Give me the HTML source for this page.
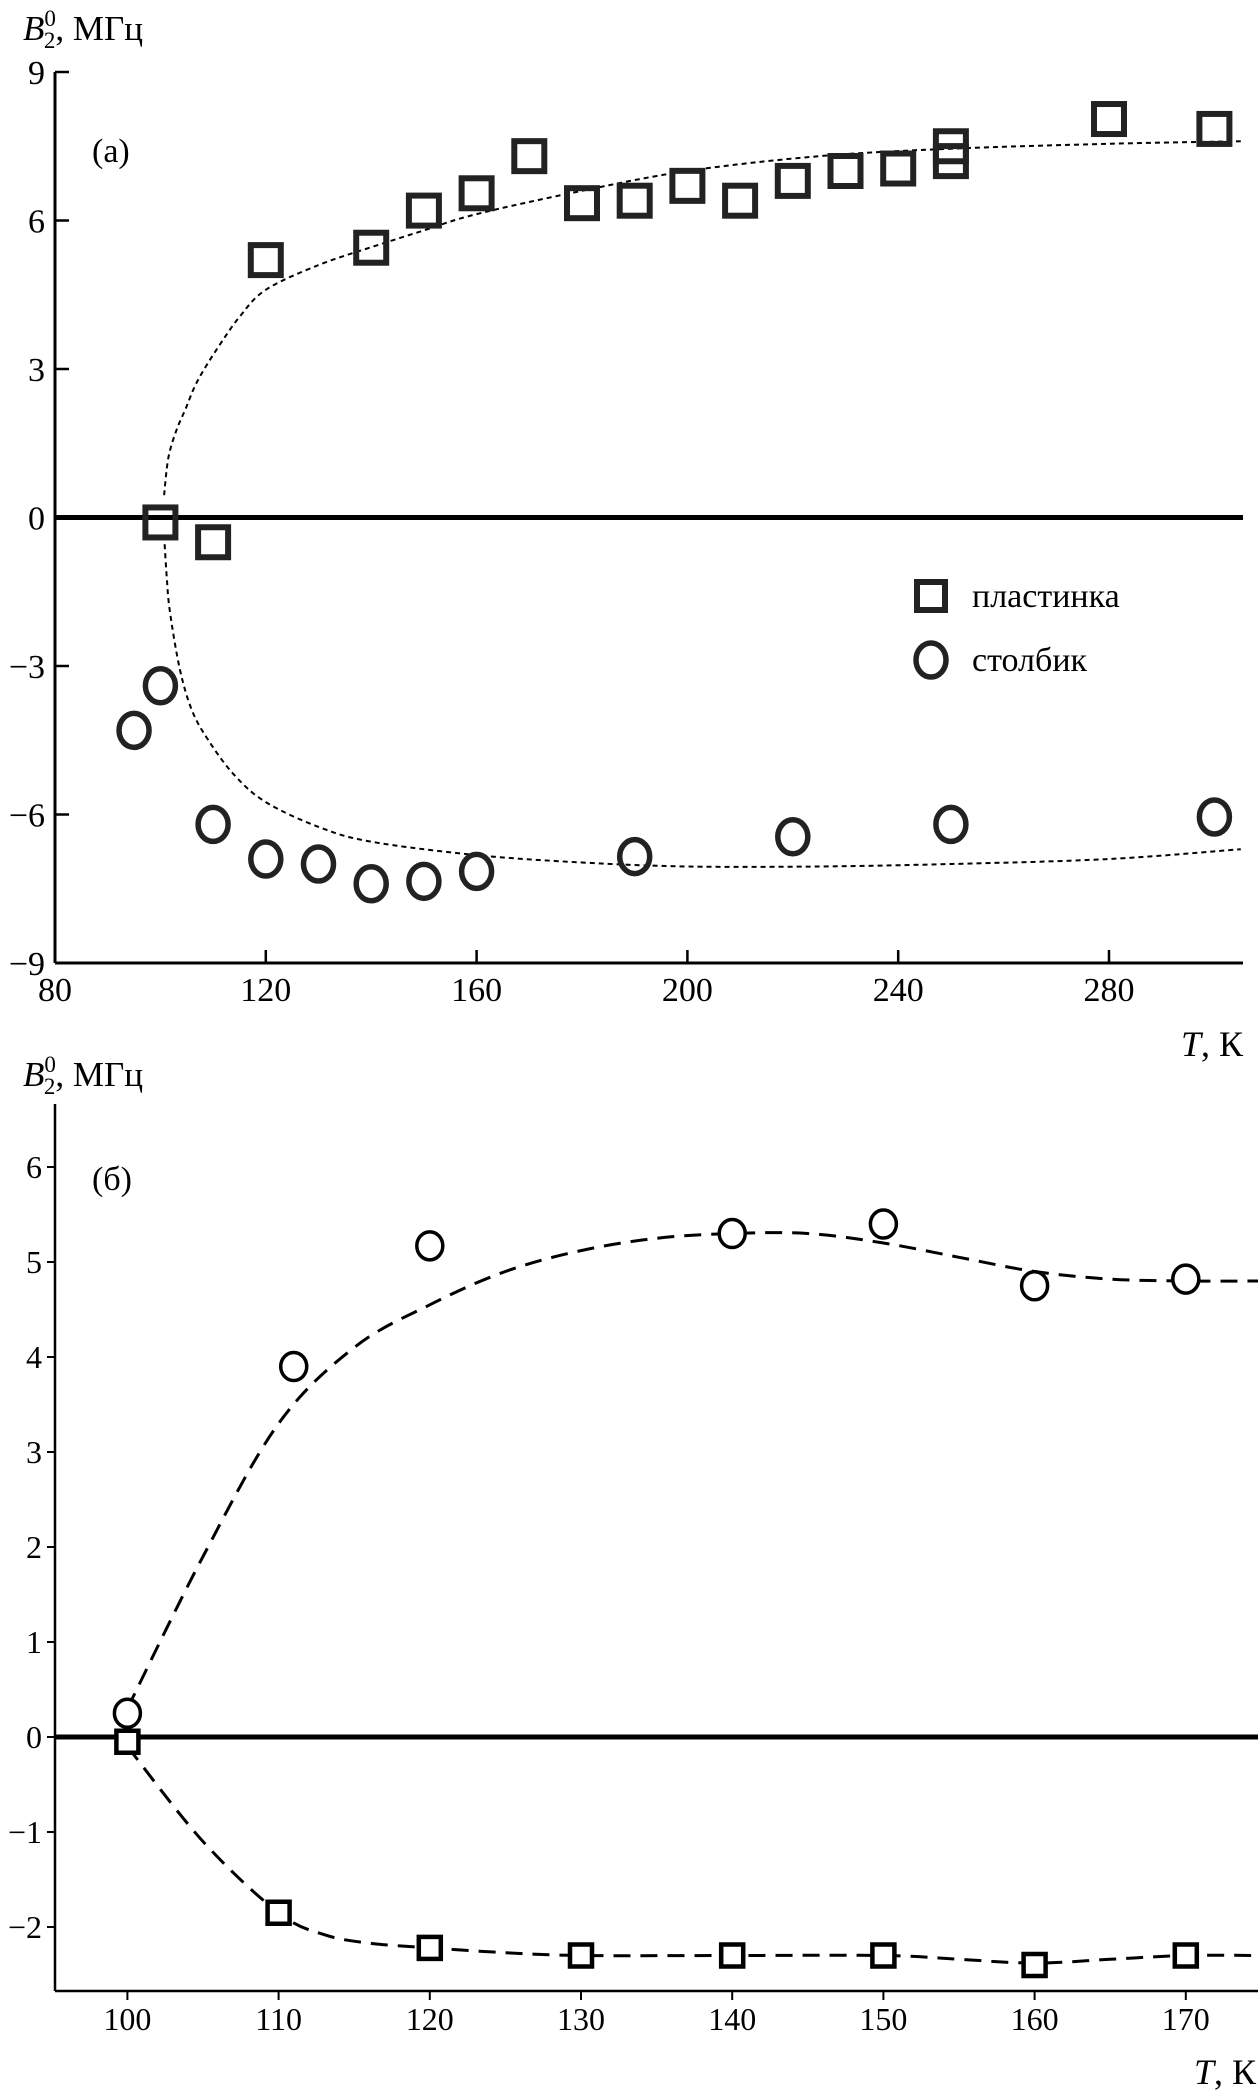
<!DOCTYPE html>
<html><head><meta charset="utf-8"><style>
html,body{margin:0;padding:0;background:#fff;}
svg{display:block;}
text{font-family:"Liberation Serif","DejaVu Serif",serif;}
</style></head><body>
<svg id="c" width="1258" height="2097" viewBox="0 0 1258 2097" xmlns="http://www.w3.org/2000/svg" font-family="Liberation Serif, DejaVu Serif, serif">
<g id="pa"></g>
<g id="pb"></g>
</svg>
<script>
// Panel (a)
const aTicksX = [80,120,160,200,240,280];
const aTicksY = [9,6,3,0,-3,-6,-9];
const aSqT = [100,110,120,140,150,160,170,180,190,200,210,220,230,240,250,250,280,300];
const aSqV = [-0.1,-0.5,5.2,5.45,6.2,6.55,7.3,6.35,6.4,6.7,6.4,6.8,7.0,7.05,7.5,7.2,8.05,7.85];
const aCiT = [95,100,110,120,130,140,150,160,190,220,250,300];
const aCiV = [-4.3,-3.4,-6.2,-6.9,-7.0,-7.4,-7.35,-7.15,-6.85,-6.45,-6.2,-6.05];
const aFitUpT = [100.7,101.5,103,104.8,107,110.9,115,120,130,140,150,160,180,200,225,250,280,305];
const aFitUpV = [0.45,1.2,1.75,2.2,2.75,3.43,4.05,4.6,5.1,5.46,5.8,6.13,6.6,7.0,7.3,7.45,7.55,7.6];
const aFitLoT = [100.7,101.2,101.8,103.7,106,109.1,114,120,130,140,160,180,200,225,250,280,305];
const aFitLoV = [-0.36,-1.2,-1.9,-3.07,-3.9,-4.5,-5.2,-5.75,-6.25,-6.55,-6.82,-6.97,-7.05,-7.05,-7.0,-6.9,-6.7];
// Panel (b)
const bTicksX = [100,110,120,130,140,150,160,170];
const bTicksY = [6,5,4,3,2,1,0,-1,-2];
const bCiT = [100,111,120,140,150,160,170];
const bCiV = [0.25,3.9,5.17,5.3,5.4,4.75,4.82];
const bSqT = [100,110,120,130,140,150,160,170];
const bSqV = [-0.05,-1.85,-2.22,-2.3,-2.3,-2.3,-2.4,-2.3];
const bFitUpT = [100,105,110,115,120,125,130,135,140,145,150,155,160,165,170,175];
const bFitUpV = [0.3,1.9,3.3,4.1,4.55,4.9,5.12,5.25,5.3,5.3,5.2,5.05,4.9,4.82,4.8,4.8];
const bFitLoT = [100,105,110,113,116,120,125,130,140,150,155,160,165,170,175];
const bFitLoV = [-0.1,-1.1,-1.85,-2.08,-2.17,-2.22,-2.27,-2.3,-2.3,-2.3,-2.34,-2.38,-2.34,-2.3,-2.3];

const NS='http://www.w3.org/2000/svg';
function mk(parent,tag,attrs,text){const e=document.createElementNS(NS,tag);for(const k in attrs)e.setAttribute(k,attrs[k]);if(tag==='text')e.setAttribute('font-family','Liberation Serif, DejaVu Serif, serif');if(text!==undefined)e.textContent=text;parent.appendChild(e);return e;}

const ax=t=>55+(t-80)*5.27;
const ay=v=>517.5-v*49.5;
const bx=t=>127.4+(t-100)*15.12;
const by=v=>1737-v*95;

const pa=document.getElementById('pa');
let e;
e=mk(pa,'line',{x1:55,y1:72,x2:55,y2:963,stroke:'#000','stroke-width':3});


e=mk(pa,'line',{x1:55,y1:963,x2:1243,y2:963,stroke:'#000','stroke-width':3});


e=mk(pa,'line',{x1:55,y1:ay(0),x2:1243,y2:ay(0),stroke:'#000','stroke-width':5});


aTicksY.forEach(v=>{
  e=mk(pa,'line',{x1:55,y1:ay(v),x2:69,y2:ay(v),stroke:'#000','stroke-width':2.5});
  
  
  e=mk(pa,'text',{x:45,y:ay(v)+12,'font-size':34,'text-anchor':'end'},v<0?'\u2212'+(-v):String(v));
  
  
});
aTicksX.forEach(t=>{
  e=mk(pa,'line',{x1:ax(t),y1:963,x2:ax(t),y2:950,stroke:'#000','stroke-width':2.5});
  
  
  e=mk(pa,'text',{x:ax(t),y:1001,'font-size':34,'text-anchor':'middle'},String(t));
  
  
});
function poly(g,T,V,fx,fy,dash,w,name){
  const P=T.map((t,i)=>[fx(t),fy(V[i])]);
  let d='M'+P[0][0].toFixed(1)+','+P[0][1].toFixed(1);
  for(let i=0;i<P.length-1;i++){
    const p0=P[Math.max(0,i-1)],p1=P[i],p2=P[i+1],p3=P[Math.min(P.length-1,i+2)];
    const c1=[p1[0]+(p2[0]-p0[0])/6,p1[1]+(p2[1]-p0[1])/6];
    const c2=[p2[0]-(p3[0]-p1[0])/6,p2[1]-(p3[1]-p1[1])/6];
    d+=' C'+c1.map(n=>n.toFixed(1)).join(',')+' '+c2.map(n=>n.toFixed(1)).join(',')+' '+p2[0].toFixed(1)+','+p2[1].toFixed(1);
  }
  const p=mk(g,'path',{d:d,fill:'none',stroke:'#000','stroke-width':w,'stroke-dasharray':dash});
  
  
}
poly(pa,aFitUpT,aFitUpV,ax,ay,'5 4',2,'fit-curve-upper-a');
poly(pa,aFitLoT,aFitLoV,ax,ay,'5 4',2,'fit-curve-lower-a');
aSqT.forEach((t,i)=>{
  e=mk(pa,'rect',{x:ax(t)-15,y:ay(aSqV[i])-15,width:30,height:30,fill:'none',stroke:'#222','stroke-width':6});
  
  
});
aCiT.forEach((t,i)=>{
  e=mk(pa,'ellipse',{cx:ax(t),cy:ay(aCiV[i]),rx:15,ry:17,fill:'none',stroke:'#222','stroke-width':5.5});
  
  
});
e=mk(pa,'text',{x:23,y:40,'font-size':35},'');
e.innerHTML='<tspan font-style="italic">B</tspan><tspan font-size="23" dy="-14">0</tspan><tspan font-size="23" dx="-12" dy="22">2</tspan><tspan dy="-8">, МГц</tspan>';


e=mk(pa,'text',{x:92,y:162,'font-size':34},'(a)');


e=mk(pa,'text',{x:1243,y:1056,'font-size':36,'text-anchor':'end'},'');
e.innerHTML='<tspan font-style="italic">T</tspan>, К';


e=mk(pa,'rect',{x:917,y:582,width:28,height:28,fill:'none',stroke:'#222','stroke-width':6});


e=mk(pa,'text',{x:972,y:607,'font-size':34},'пластинка');


e=mk(pa,'ellipse',{cx:931,cy:660,rx:15,ry:17,fill:'none',stroke:'#222','stroke-width':5.5});


e=mk(pa,'text',{x:972,y:671,'font-size':34},'столбик');



const pb=document.getElementById('pb');
e=mk(pb,'line',{x1:55,y1:1104,x2:55,y2:1991,stroke:'#000','stroke-width':2.5});


e=mk(pb,'line',{x1:55,y1:1991,x2:1258,y2:1991,stroke:'#000','stroke-width':2.5});


e=mk(pb,'line',{x1:55,y1:by(0),x2:1258,y2:by(0),stroke:'#000','stroke-width':5});


bTicksY.forEach(v=>{
  e=mk(pb,'line',{x1:47,y1:by(v),x2:55,y2:by(v),stroke:'#000','stroke-width':2});
  
  
  e=mk(pb,'text',{x:42,y:by(v)+11,'font-size':32,'text-anchor':'end'},v<0?'\u2212'+(-v):String(v));
  
  
});
bTicksX.forEach(t=>{
  e=mk(pb,'line',{x1:bx(t),y1:1991,x2:bx(t),y2:2000,stroke:'#000','stroke-width':2});
  
  
  e=mk(pb,'text',{x:bx(t),y:2030,'font-size':32,'text-anchor':'middle'},String(t));
  
  
});
poly(pb,bFitUpT,bFitUpV,bx,by,'17 10',3,'fit-curve-upper-b');
poly(pb,bFitLoT,bFitLoV,bx,by,'17 10',3,'fit-curve-lower-b');
bCiT.forEach((t,i)=>{
  e=mk(pb,'ellipse',{cx:bx(t),cy:by(bCiV[i]),rx:13,ry:14,fill:'#fff',stroke:'#000','stroke-width':3.5});
  
  
});
bSqT.forEach((t,i)=>{
  e=mk(pb,'rect',{x:bx(t)-11,y:by(bSqV[i])-11,width:22,height:22,fill:'#fff',stroke:'#000','stroke-width':4.5});
  
  
});
e=mk(pb,'text',{x:23,y:1086,'font-size':35},'');
e.innerHTML='<tspan font-style="italic">B</tspan><tspan font-size="23" dy="-14">0</tspan><tspan font-size="23" dx="-12" dy="22">2</tspan><tspan dy="-8">, МГц</tspan>';


e=mk(pb,'text',{x:92,y:1190,'font-size':34},'(б)');


e=mk(pb,'text',{x:1256,y:2084,'font-size':36,'text-anchor':'end'},'');
e.innerHTML='<tspan font-style="italic">T</tspan>, К';


</script>
</body></html>
